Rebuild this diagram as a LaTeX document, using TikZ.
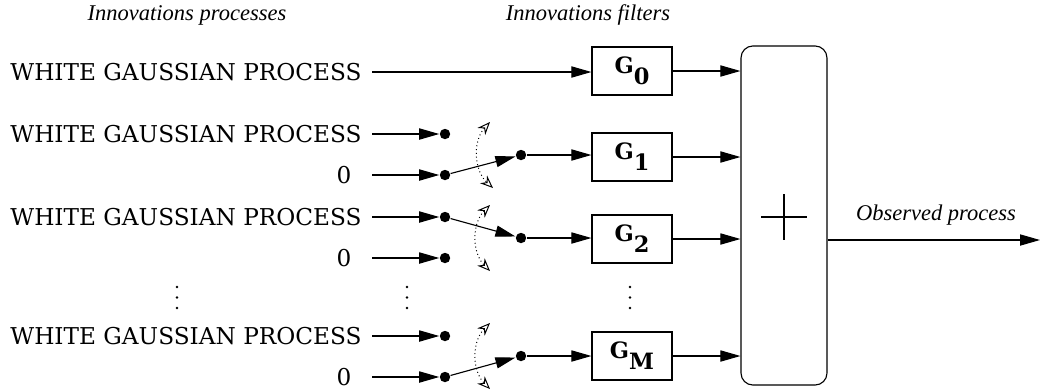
\documentclass[tikz,border=0pt]{standalone}
\usepackage{fontspec}
\setmainfont{DejaVu Serif}
\newfontfamily\capfont{Liberation Serif}
\usepackage{tikz}
\usetikzlibrary{positioning,arrows.meta,calc}

\newcommand{\filt}[1]{\textbf{G\raisebox{-0.5em}{#1}}}

\begin{document}
\begin{tikzpicture}[x=0.025cm, y=-0.025cm, line width=0.8pt,
		src/.style={anchor=east, inner xsep=0.25cm, inner ysep=0pt, font=\fontsize{16.5}{19}\selectfont},
		zero/.style={src, inner xsep=0.5cm},
		head/.style={font=\capfont\itshape\fontsize{16}{19}\selectfont},
		dot/.style={circle, fill, inner sep=0pt, minimum size=2.6mm},
		filter/.style={draw, minimum width=2cm, minimum height=1.2cm, font=\fontsize{16}{19}\selectfont},
		sig/.style={-{Triangle[length=5mm,width=2.8mm]}},
		swing/.style={dotted, line width=0.7pt, {Stealth[open,length=3.2mm,width=2.6mm]}-{Stealth[open,length=3.2mm,width=2.6mm]}},
	]
	\useasboundingbox (0,0) rectangle (1042,391);

	\node[head] (hproc) at (187,15) {Innovations processes};
	\node[head] (hfilt) at (588,15) {Innovations filters};

	% sources
	\node[src] (s0) at (372,72) {WHITE GAUSSIAN PROCESS};
	\node[src] (s1) at (372,134) {WHITE GAUSSIAN PROCESS};
	\node[zero] (z1) at (372,175) {0};
	\node[src] (s2) at (372,217) {WHITE GAUSSIAN PROCESS};
	\node[zero] (z2) at (372,258) {0};
	\node[src] (sm) at (372,336) {WHITE GAUSSIAN PROCESS};
	\node[zero] (zm) at (372,377) {0};

	% switch contacts
	\node[dot] (a1) at (445,134) {};
	\node[dot] (b1) at (445,175) {};
	\node[dot] (o1) at (521,155) {};
	\node[dot] (a2) at (445,217) {};
	\node[dot] (b2) at (445,258) {};
	\node[dot] (o2) at (521,238) {};
	\node[dot] (am) at (445,336) {};
	\node[dot] (bm) at (445,377) {};
	\node[dot] (om) at (521,356) {};

	% filters and adder
	\node[filter] (g0) at (632,71) {\filt{0}};
	\node[filter] (g1) at (632,157) {\filt{1}};
	\node[filter] (g2) at (632,239) {\filt{2}};
	\node[filter] (gm) at (632,356) {\filt{M}};
	\node[draw, rounded corners=3mm, minimum width=2.15cm, minimum height=8.475cm] (sum) at (784,215.5) {};
	\draw[line width=1.4pt] (761,217) -- (807,217) (784,194) -- (784,240);

	\draw[sig] (s0) -- (s0 -| g0.west);
	\draw[sig] (s1) -- (a1);
	\draw[sig] (z1) -- (b1);
	\draw[sig] (s2) -- (a2);
	\draw[sig] (z2) -- (b2);
	\draw[sig] (sm) -- (am);
	\draw[sig] (zm) -- (bm);

	\draw[sig] (b1) -- (o1);
	\draw[sig] (a2) -- (o2);
	\draw[sig] (bm) -- (om);

	\draw[sig] (o1) -- (o1 -| g1.west);
	\draw[sig] (o2) -- (o2 -| g2.west);
	\draw[sig] (om) -- (om -| gm.west);

	\draw[swing] ($(o1)+(-31,-33)$) to[bend right=45] ($(o1)+(-28,33)$);
	\draw[swing] ($(o2)+(-31,-33)$) to[bend right=45] ($(o2)+(-31,33)$);
	\draw[swing] ($(om)+(-31,-33)$) to[bend right=45] ($(om)+(-31,33)$);

	\draw[sig] (g0) -- (g0 -| sum.west);
	\draw[sig] (g1) -- (g1 -| sum.west);
	\draw[sig] (g2) -- (g2 -| sum.west);
	\draw[sig] (gm) -- (gm -| sum.west);

	\coordinate (out) at (1040,240);
	\draw[sig] (out -| sum.east) -- (out);
	\node[head] (hout) at (936,215) {Observed process};

	% vertical dots
	\foreach \px in {177,407,630}
		\foreach \k in {0,1,2}
			\fill (\px,287+\k*10.5) circle (1.3);
\end{tikzpicture}
\end{document}
